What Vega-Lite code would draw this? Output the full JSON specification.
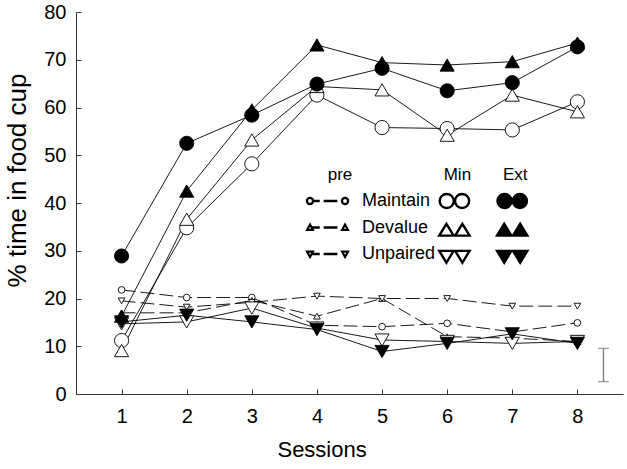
{
  "$schema": "https://vega.github.io/schema/vega-lite/v6.json",
  "width": 547,
  "height": 382,
  "autosize": {"type": "none"},
  "padding": {"left": 76, "top": 12, "right": 4, "bottom": 75},
  "config": {
    "font": "Liberation Sans",
    "view": {"stroke": null},
    "axis": {"grid": false, "domainColor": "#333", "tickColor": "#333", "domainWidth": 1, "tickWidth": 1, "labelColor": "black", "titleColor": "black", "labelFontSize": 20, "titleFontWeight": "normal", "labelFont": "Liberation Sans", "titleFont": "Liberation Sans"},
    "legend": {"titleFontWeight": "normal", "titleFontSize": 17, "labelFontSize": 18, "titleColor": "black", "labelColor": "black", "padding": 0, "rowPadding": 4.5, "titlePadding": 4, "labelFont": "Liberation Sans", "titleFont": "Liberation Sans", "symbolOpacity": 1}
  },
  "datasets": {
    "main": [
      {"session": 1, "value": 11.2, "group": "Maintain", "phase": "Min"},
      {"session": 2, "value": 34.8, "group": "Maintain", "phase": "Min"},
      {"session": 3, "value": 48.2, "group": "Maintain", "phase": "Min"},
      {"session": 4, "value": 62.6, "group": "Maintain", "phase": "Min"},
      {"session": 5, "value": 55.8, "group": "Maintain", "phase": "Min"},
      {"session": 6, "value": 55.6, "group": "Maintain", "phase": "Min"},
      {"session": 7, "value": 55.3, "group": "Maintain", "phase": "Min"},
      {"session": 8, "value": 61.2, "group": "Maintain", "phase": "Min"},
      {"session": 1, "value": 28.9, "group": "Maintain", "phase": "Ext"},
      {"session": 2, "value": 52.5, "group": "Maintain", "phase": "Ext"},
      {"session": 3, "value": 58.4, "group": "Maintain", "phase": "Ext"},
      {"session": 4, "value": 64.9, "group": "Maintain", "phase": "Ext"},
      {"session": 5, "value": 68.2, "group": "Maintain", "phase": "Ext"},
      {"session": 6, "value": 63.5, "group": "Maintain", "phase": "Ext"},
      {"session": 7, "value": 65.2, "group": "Maintain", "phase": "Ext"},
      {"session": 8, "value": 72.7, "group": "Maintain", "phase": "Ext"},
      {"session": 1, "value": 9.1, "group": "Devalue", "phase": "Min"},
      {"session": 2, "value": 36.6, "group": "Devalue", "phase": "Min"},
      {"session": 3, "value": 53.2, "group": "Devalue", "phase": "Min"},
      {"session": 4, "value": 64.4, "group": "Devalue", "phase": "Min"},
      {"session": 5, "value": 63.7, "group": "Devalue", "phase": "Min"},
      {"session": 6, "value": 54.2, "group": "Devalue", "phase": "Min"},
      {"session": 7, "value": 62.6, "group": "Devalue", "phase": "Min"},
      {"session": 8, "value": 59.1, "group": "Devalue", "phase": "Min"},
      {"session": 1, "value": 16.3, "group": "Devalue", "phase": "Ext"},
      {"session": 2, "value": 42.5, "group": "Devalue", "phase": "Ext"},
      {"session": 3, "value": 59.5, "group": "Devalue", "phase": "Ext"},
      {"session": 4, "value": 73.1, "group": "Devalue", "phase": "Ext"},
      {"session": 5, "value": 69.4, "group": "Devalue", "phase": "Ext"},
      {"session": 6, "value": 68.9, "group": "Devalue", "phase": "Ext"},
      {"session": 7, "value": 69.6, "group": "Devalue", "phase": "Ext"},
      {"session": 8, "value": 73.5, "group": "Devalue", "phase": "Ext"},
      {"session": 1, "value": 14.7, "group": "Unpaired", "phase": "Min"},
      {"session": 2, "value": 15.1, "group": "Unpaired", "phase": "Min"},
      {"session": 3, "value": 18.0, "group": "Unpaired", "phase": "Min"},
      {"session": 4, "value": 13.8, "group": "Unpaired", "phase": "Min"},
      {"session": 5, "value": 11.3, "group": "Unpaired", "phase": "Min"},
      {"session": 6, "value": 11.0, "group": "Unpaired", "phase": "Min"},
      {"session": 7, "value": 10.6, "group": "Unpaired", "phase": "Min"},
      {"session": 8, "value": 11.0, "group": "Unpaired", "phase": "Min"},
      {"session": 1, "value": 15.1, "group": "Unpaired", "phase": "Ext"},
      {"session": 2, "value": 16.5, "group": "Unpaired", "phase": "Ext"},
      {"session": 3, "value": 15.1, "group": "Unpaired", "phase": "Ext"},
      {"session": 4, "value": 13.5, "group": "Unpaired", "phase": "Ext"},
      {"session": 5, "value": 8.9, "group": "Unpaired", "phase": "Ext"},
      {"session": 6, "value": 10.6, "group": "Unpaired", "phase": "Ext"},
      {"session": 7, "value": 12.6, "group": "Unpaired", "phase": "Ext"},
      {"session": 8, "value": 10.6, "group": "Unpaired", "phase": "Ext"},
      {"session": 1, "value": 21.8, "group": "Maintain", "phase": "pre"},
      {"session": 2, "value": 20.2, "group": "Maintain", "phase": "pre"},
      {"session": 3, "value": 20.2, "group": "Maintain", "phase": "pre"},
      {"session": 4, "value": 14.4, "group": "Maintain", "phase": "pre"},
      {"session": 5, "value": 14.1, "group": "Maintain", "phase": "pre"},
      {"session": 6, "value": 14.8, "group": "Maintain", "phase": "pre"},
      {"session": 7, "value": 13.0, "group": "Maintain", "phase": "pre"},
      {"session": 8, "value": 14.9, "group": "Maintain", "phase": "pre"},
      {"session": 1, "value": 17.0, "group": "Devalue", "phase": "pre"},
      {"session": 2, "value": 17.0, "group": "Devalue", "phase": "pre"},
      {"session": 3, "value": 19.6, "group": "Devalue", "phase": "pre"},
      {"session": 4, "value": 16.3, "group": "Devalue", "phase": "pre"},
      {"session": 5, "value": 20.0, "group": "Devalue", "phase": "pre"},
      {"session": 6, "value": 12.0, "group": "Devalue", "phase": "pre"},
      {"session": 7, "value": 11.7, "group": "Devalue", "phase": "pre"},
      {"session": 8, "value": 11.0, "group": "Devalue", "phase": "pre"},
      {"session": 1, "value": 19.5, "group": "Unpaired", "phase": "pre"},
      {"session": 2, "value": 18.2, "group": "Unpaired", "phase": "pre"},
      {"session": 3, "value": 19.2, "group": "Unpaired", "phase": "pre"},
      {"session": 4, "value": 20.5, "group": "Unpaired", "phase": "pre"},
      {"session": 5, "value": 20.0, "group": "Unpaired", "phase": "pre"},
      {"session": 6, "value": 20.0, "group": "Unpaired", "phase": "pre"},
      {"session": 7, "value": 18.4, "group": "Unpaired", "phase": "pre"},
      {"session": 8, "value": 18.4, "group": "Unpaired", "phase": "pre"}
    ],
    "err": [{"session": 8.4, "lo": 2.6, "hi": 9.55}]
  },
  "layer": [
    {
      "data": {"name": "main"},
      "transform": [{"filter": "datum.phase === 'pre'"}],
      "mark": {"type": "line", "strokeDash": [14, 5], "color": "black", "strokeWidth": 0.9},
      "encoding": {
        "x": {"field": "session", "type": "quantitative", "title": "Sessions",
          "scale": {"domain": [0.3, 8.7], "nice": false, "zero": false},
          "axis": {"values": [1, 2, 3, 4, 5, 6, 7, 8], "format": "d", "tickSize": -5, "labelPadding": 17.5, "titleFontSize": 22, "titleX": 245.6, "titleY": 62, "titleBaseline": "alphabetic"}},
        "y": {"field": "value", "type": "quantitative", "title": "% time in food cup",
          "scale": {"domain": [0, 80], "nice": false},
          "axis": {"values": [0, 10, 20, 30, 40, 50, 60, 70, 80], "format": "d", "tickSize": -5, "labelPadding": 15, "titleFontSize": 26, "titleX": -51, "titleY": 168, "titleBaseline": "alphabetic"}},
        "detail": {"field": "group"}
      }
    },
    {
      "data": {"name": "main"},
      "transform": [{"filter": "datum.phase !== 'pre'"}],
      "mark": {"type": "line", "color": "black", "strokeWidth": 0.9},
      "encoding": {
        "x": {"field": "session", "type": "quantitative", "title": "Sessions"},
        "y": {"field": "value", "type": "quantitative", "title": "% time in food cup"},
        "detail": [{"field": "group"}, {"field": "phase"}]
      }
    },
    {
      "data": {"name": "err"},
      "mark": {"type": "rule", "color": "#777", "strokeWidth": 1.3},
      "encoding": {
        "x": {"field": "session", "type": "quantitative", "title": "Sessions"},
        "y": {"field": "lo", "type": "quantitative", "title": "% time in food cup"},
        "y2": {"field": "hi"}
      }
    },
    {
      "data": {"name": "err"},
      "mark": {"type": "tick", "orient": "horizontal", "color": "#777", "size": 11, "thickness": 1.3},
      "encoding": {
        "x": {"field": "session", "type": "quantitative", "title": "Sessions"},
        "y": {"field": "lo", "type": "quantitative", "title": "% time in food cup"}
      }
    },
    {
      "data": {"name": "err"},
      "mark": {"type": "tick", "orient": "horizontal", "color": "#777", "size": 11, "thickness": 1.3},
      "encoding": {
        "x": {"field": "session", "type": "quantitative", "title": "Sessions"},
        "y": {"field": "hi", "type": "quantitative", "title": "% time in food cup"}
      }
    },
    {
      "data": {"name": "main"},
      "transform": [{"filter": "datum.phase === 'pre'"}],
      "mark": {"type": "point", "filled": true, "fill": "white", "stroke": "black", "strokeWidth": 0.9, "size": 45, "opacity": 1},
      "encoding": {
        "x": {"field": "session", "type": "quantitative", "title": "Sessions"},
        "y": {"field": "value", "type": "quantitative", "title": "% time in food cup"},
        "shape": {"field": "group", "type": "nominal",
          "scale": {"domain": ["Maintain", "Devalue", "Unpaired"], "range": ["circle", "triangle-up", "triangle-down"]},
          "legend": null}
      }
    },
    {
      "data": {"name": "main"},
      "transform": [{"filter": "datum.phase === 'Min'"}],
      "mark": {"type": "point", "filled": true, "fill": "white", "stroke": "black", "strokeWidth": 0.9, "size": 200, "opacity": 1},
      "encoding": {
        "x": {"field": "session", "type": "quantitative", "title": "Sessions"},
        "y": {"field": "value", "type": "quantitative", "title": "% time in food cup"},
        "shape": {"field": "group", "type": "nominal",
          "scale": {"domain": ["Maintain", "Devalue", "Unpaired"], "range": ["circle", "triangle-up", "triangle-down"]},
          "legend": null}
      }
    },
    {
      "data": {"name": "main"},
      "transform": [{"filter": "datum.phase === 'Ext'"}],
      "mark": {"type": "point", "filled": true, "fill": "black", "stroke": "black", "strokeWidth": 0.9, "size": 200, "opacity": 1},
      "encoding": {
        "x": {"field": "session", "type": "quantitative", "title": "Sessions"},
        "y": {"field": "value", "type": "quantitative", "title": "% time in food cup"},
        "shape": {"field": "group", "type": "nominal",
          "scale": {"domain": ["Maintain", "Devalue", "Unpaired"], "range": ["circle", "triangle-up", "triangle-down"]},
          "legend": null}
      }
    },
    {
      "data": {"name": "main"},
      "transform": [{"filter": "datum.phase === 'pre'"}],
      "mark": {"type": "point", "filled": true, "fill": "black", "stroke": "black", "opacity": 0, "size": 1},
      "encoding": {
        "x": {"field": "session", "type": "quantitative", "title": "Sessions"},
        "y": {"field": "value", "type": "quantitative", "title": "% time in food cup"},
        "shape": {"field": "group", "type": "nominal",
          "scale": {"domain": ["Maintain", "Devalue", "Unpaired"], "range": [
            "M-1.75,0A0.29,0.29 0 1,1 -1.17,0A0.29,0.29 0 1,1 -1.75,0ZM-1.68,0A0.22,0.22 0 1,0 -1.24,0A0.22,0.22 0 1,0 -1.68,0ZM1.17,0A0.29,0.29 0 1,1 1.75,0A0.29,0.29 0 1,1 1.17,0ZM1.24,0A0.22,0.22 0 1,0 1.68,0A0.22,0.22 0 1,0 1.24,0ZM-1.17,-0.035L-0.71,-0.035L-0.71,0.035L-1.17,0.035ZM-0.26,-0.035L0.76,-0.035L0.76,0.035L-0.26,0.035Z",
            "M-1.46,-0.3L-1.75,0.22L-1.17,0.22ZM-1.46,-0.197L-1.255,0.17L-1.665,0.17ZM1.46,-0.3L1.17,0.22L1.75,0.22ZM1.46,-0.197L1.665,0.17L1.255,0.17ZM-1.2,-0.035L-0.71,-0.035L-0.71,0.035L-1.2,0.035ZM-0.26,-0.035L0.76,-0.035L0.76,0.035L-0.26,0.035Z",
            "M-1.46,0.3L-1.75,-0.22L-1.17,-0.22ZM-1.46,0.197L-1.255,-0.17L-1.665,-0.17ZM1.46,0.3L1.17,-0.22L1.75,-0.22ZM1.46,0.197L1.665,-0.17L1.255,-0.17ZM-1.2,-0.035L-0.71,-0.035L-0.71,0.035L-1.2,0.035ZM-0.26,-0.035L0.76,-0.035L0.76,0.035L-0.26,0.035Z"]},
          "legend": {"title": "pre", "orient": "none", "legendX": 251.7, "legendY": 155, "symbolSize": 576, "symbolOffset": -13.2, "labelOffset": 21.5, "symbolFillColor": "black", "symbolOpacity": 1}}
      }
    },
    {
      "data": {"name": "main"},
      "transform": [{"filter": "datum.phase === 'Min'"}],
      "mark": {"type": "point", "filled": true, "fill": "black", "stroke": "black", "opacity": 0, "size": 1},
      "encoding": {
        "x": {"field": "session", "type": "quantitative", "title": "Sessions"},
        "y": {"field": "value", "type": "quantitative", "title": "% time in food cup"},
        "shape": {"field": "group", "type": "nominal",
          "scale": {"domain": ["Maintain", "Devalue", "Unpaired"], "range": [
            "M-1.265,0A0.625,0.625 0 1,1 -0.015,0A0.625,0.625 0 1,1 -1.265,0ZM-1.19,0A0.55,0.55 0 1,0 -0.09,0A0.55,0.55 0 1,0 -1.19,0ZM0.015,0A0.625,0.625 0 1,1 1.265,0A0.625,0.625 0 1,1 0.015,0ZM0.09,0A0.55,0.55 0 1,0 1.19,0A0.55,0.55 0 1,0 0.09,0Z",
            "M-0.665,-0.55L-1.33,0.55L0,0.55ZM-0.665,-0.405L-0.133,0.475L-1.197,0.475ZM0.665,-0.55L0,0.55L1.33,0.55ZM0.665,-0.405L1.197,0.475L0.133,0.475Z",
            "M-0.665,0.55L-1.33,-0.55L0,-0.55ZM-0.665,0.405L-0.133,-0.475L-1.197,-0.475ZM0.665,0.55L0,-0.55L1.33,-0.55ZM0.665,0.405L1.197,-0.475L0.133,-0.475Z"]},
          "legend": {"title": "Min", "orient": "none", "legendX": 365.4, "legendY": 155, "symbolSize": 576, "labelOffset": 0, "labelExpr": "''", "titleAnchor": "middle", "symbolFillColor": "black", "symbolOpacity": 1}}
      }
    },
    {
      "data": {"name": "main"},
      "transform": [{"filter": "datum.phase === 'Ext'"}],
      "mark": {"type": "point", "filled": true, "fill": "black", "stroke": "black", "opacity": 0, "size": 1},
      "encoding": {
        "x": {"field": "session", "type": "quantitative", "title": "Sessions"},
        "y": {"field": "value", "type": "quantitative", "title": "% time in food cup"},
        "shape": {"field": "group", "type": "nominal",
          "scale": {"domain": ["Maintain", "Devalue", "Unpaired"], "range": [
            "M-1.265,0A0.625,0.625 0 1,0 -0.015,0A0.625,0.625 0 1,0 -1.265,0ZM0.015,0A0.625,0.625 0 1,0 1.265,0A0.625,0.625 0 1,0 0.015,0Z",
            "M-0.665,-0.55L-1.33,0.55L0,0.55ZM0.665,-0.55L0,0.55L1.33,0.55Z",
            "M-0.665,0.55L-1.33,-0.55L0,-0.55ZM0.665,0.55L0,-0.55L1.33,-0.55Z"]},
          "legend": {"title": "Ext", "orient": "none", "legendX": 423.2, "legendY": 155, "symbolSize": 576, "labelOffset": 0, "labelExpr": "''", "titleAnchor": "middle", "symbolFillColor": "black", "symbolOpacity": 1}}
      }
    }
  ],
  "resolve": {"scale": {"shape": "independent"}, "legend": {"shape": "independent"}}
}
